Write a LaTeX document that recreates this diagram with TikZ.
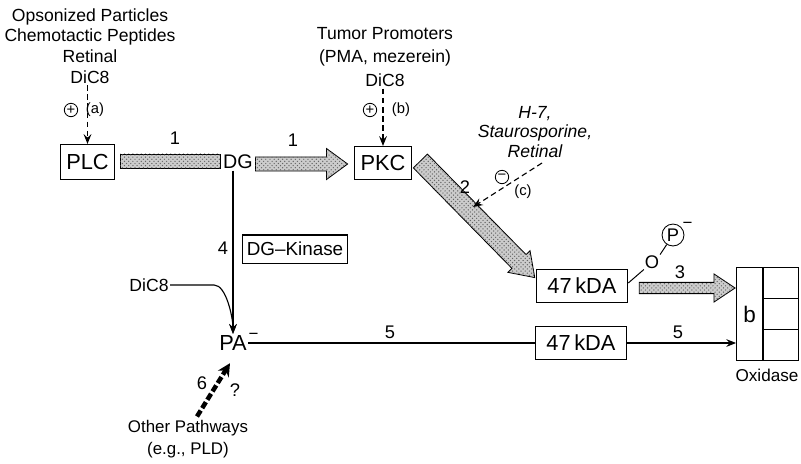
\documentclass[tikz,border=0pt]{standalone}
\usepackage{fontspec}
\setmainfont{Liberation Sans}
\usetikzlibrary{arrows.meta,positioning,calc,patterns}
\colorlet{fatgray}{black!20}
\colorlet{dotcolor}{black!60}

\begin{document}
\begin{tikzpicture}[x=0.025cm, y=-0.025cm,
  txt/.style={inner sep=1pt, font=\fontsize{12.5}{14.7}\selectfont, align=center},
  box/.style={draw, line width=0.8pt, inner sep=0pt, font=\fontsize{15.5}{16}\selectfont},
  num/.style={inner sep=1pt, font=\fontsize{13}{13}\selectfont},
  sign/.style={circle, draw, line width=0.6pt, inner sep=0pt, minimum size=9.5pt, font=\fontsize{10.5}{10}\selectfont},
  tag/.style={inner sep=1pt, font=\fontsize{10.5}{11}\selectfont},
  cell/.style={draw, line width=0.8pt, inner sep=0pt, outer sep=0pt, minimum width=25.5pt, minimum height=22.2pt},
  arr/.style={-{Stealth[length=7pt, width=5.5pt, inset=2.5pt]}, line width=0.8pt},
  actline/.style={arr, dashed, dash pattern=on 4pt off 2.5pt},
  thickdash/.style={-{Stealth[length=9pt, width=9pt, inset=3pt]}, line width=3.2pt, dash pattern=on 5pt off 2pt},
  % shaded broad arrow: shaft half width, head half width, head length
  fat/.style n args={3}{draw, line width=0.6pt, fill=fatgray,
    postaction={pattern=crosshatch dots, pattern color=dotcolor},
    to path={(\tikztostart) coordinate (fa-s) (\tikztotarget) coordinate (fa-t)
      ($(fa-t)!#3!(fa-s)$) coordinate (fa-h)
      ($(fa-s)!#1!90:(fa-t)$) -- ($(fa-h)!#1!90:(fa-t)$) -- ($(fa-h)!#2!90:(fa-t)$)
      -- (fa-t) -- ($(fa-h)!#2!-90:(fa-t)$) -- ($(fa-h)!#1!-90:(fa-t)$)
      -- ($(fa-s)!#1!-90:(fa-t)$) -- cycle}},
  fatbar/.style={draw, line width=0.6pt, fill=fatgray,
    postaction={pattern=crosshatch dots, pattern color=dotcolor},
    to path={(\tikztostart) coordinate (fb-s) (\tikztotarget) coordinate (fb-t)
      ($(fb-s)!#1!90:(fb-t)$) -- ($(fb-t)!#1!-90:(fb-s)$)
      -- ($(fb-t)!#1!90:(fb-s)$) -- ($(fb-s)!#1!-90:(fb-t)$) -- cycle}}
]
\useasboundingbox (0,0) rectangle (801,463);

% stimuli
\node[txt] (srca) at (90,46) {Opsonized Particles\\Chemotactic Peptides\\Retinal\\DiC8};
\node[txt, font=\fontsize{12.5}{17}\selectfont] (srcb) at (385,57) {Tumor Promoters\\(PMA, mezerein)\\DiC8};
\node[txt, font=\fontsize{12.5}{13.6}\itshape] (inh) at (535,132) {H-7,\\Staurosporine,\\Retinal};

% main row
\node[box, minimum width=39pt, minimum height=24.8pt] (plc) at (87.5,162) {PLC};
\node[inner sep=1pt, font=\fontsize{14}{14}\selectfont] (dg) at (238,162) {DG};
\node[box, minimum width=41pt, minimum height=23.4pt] (pkc) at (383,163) {PKC};
\node[box, minimum width=65pt, minimum height=24pt] (kup) at (582,286) {47\,kDA};
\node[box, minimum width=65pt, minimum height=24pt] (klo) at (581,343) {47\,kDA};
\node[box, font=\fontsize{13.4}{14}\selectfont, minimum width=75pt, minimum height=20pt] (dgk) at (295,249) {DG--Kinase};
\node[inner sep=1pt, font=\fontsize{15.5}{16}\selectfont,
      label={[inner sep=0pt, font=\fontsize{12}{12}\selectfont]12:−}] (pa) at (233,343) {PA};
\node[txt] (dic) at (149,285) {DiC8};
\node[txt, font=\fontsize{12}{15.6}\selectfont] (other) at (188,439) {Other Pathways\\(e.g., PLD)};

% oxidase
\node[draw, line width=0.8pt, inner sep=0pt, outer sep=0pt, minimum width=19.1pt, minimum height=66.6pt,
      font=\fontsize{16}{16}\selectfont] (oxb) at (749.5,314) {b};
\node[cell, anchor=north west] (ox1) at (oxb.north east) {};
\node[cell, below=0pt of ox1] (ox2) {};
\node[cell, below=0pt of ox2] (ox3) {};
\node[txt, font=\fontsize{12.2}{13}\selectfont] (oxl) at (767,375) {Oxidase};

% phosphate
\node[inner sep=0.5pt, font=\fontsize{13}{13}\selectfont] (oo) at (652,262) {O};
\node[circle, draw, line width=0.6pt, inner sep=0pt, minimum size=15.6pt, font=\fontsize{13}{13}\selectfont,
      label={[inner sep=0pt, font=\fontsize{12}{12}\selectfont]35:−}] (pho) at (673,235) {P};
\draw[line width=0.7pt] ($(kup.east)+(0,-3)$) -- (oo.south west);
\draw[line width=0.7pt] (oo.north east) -- (pho);

% signs and tags
\node[sign] (pa1) at (71,110) {+};
\node[tag] at (95,110) {(a)};
\node[sign] (pb1) at (370,110) {+};
\node[tag] at (401,110) {(b)};
\node[sign] (mc1) at (502,177) {−};
\node[tag] at (523,192) {(c)};

% shaded arrows
\draw[fatbar=5pt] ($(plc.east)+(5,-1)$) to ($(dg.west)+(-1,-1)$);
\draw[fat={5pt}{11pt}{15pt}] ($(dg.east)+(1,2)$) to ($(pkc.west)+(-6,1)$);
\draw[fat={7pt}{11pt}{16pt}] ($(pkc.east)+(8,-2)$) to ($(kup.north west)+(-1,9)$);
\draw[fat={4pt}{10pt}{15pt}] ($(kup.east)+(11,2)$) to ($(kup.east -| oxb.west)+(-1,2)$);

% numbers
\node[num] at (175,138) {1};
\node[num] at (293,140) {1};
\node[num] at (465,187) {2};
\node[num] at (680,272) {3};
\node[num] at (223,248) {4};
\node[num] at (390,332) {5};
\node[num] at (678,332) {5};
\node[num] at (202,383) {6};
\node[num] at (235,390) {?};

% activation / inhibition
\draw[actline] (srca.south -| plc.north) -- (plc.north);
\draw[actline] (srcb.south -| pkc.north) -- (pkc.north);
\coordinate (cstart) at (542,163);
\coordinate (hit) at (473,207);
\draw[actline] (cstart) -- (hit);

% PA branch
\draw[arr] (pa.north |- dg.south) -- (pa.north);
\draw[arr] (dic.east) -- ++(44,0) .. controls +(12,0) and +(0,-16) .. (pa.north);
\draw[line width=0.8pt] (pa.east) -- (klo.west);
\draw[arr] (klo.east) -- (klo.east -| oxb.west);
\draw[thickdash] ($(other.north)+(9,-2)$) -- ($(pa.south)+(-3,11)$);
\end{tikzpicture}
\end{document}
